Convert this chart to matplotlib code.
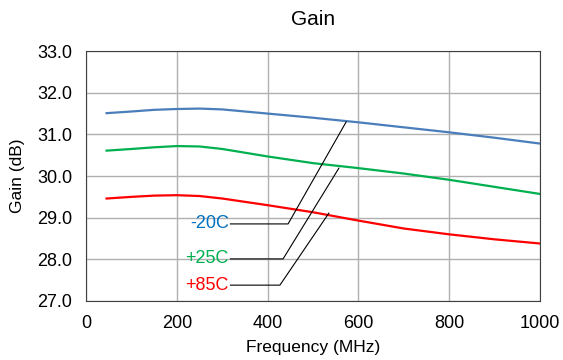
import matplotlib.pyplot as plt
import numpy as np

plt.rcParams['font.family'] = ['Liberation Sans', 'DejaVu Sans']

# data
freq = [45, 100, 150, 200, 250, 300, 400, 500, 600, 700, 800, 900, 1000]
gain_m20 = [31.51, 31.55, 31.59, 31.61, 31.62, 31.60, 31.50, 31.40, 31.29, 31.17, 31.05, 30.92, 30.78]
gain_p25 = [30.61, 30.65, 30.69, 30.72, 30.71, 30.65, 30.47, 30.31, 30.19, 30.06, 29.91, 29.74, 29.57]
gain_p85 = [29.46, 29.50, 29.53, 29.54, 29.52, 29.46, 29.30, 29.13, 28.93, 28.74, 28.60, 28.48, 28.38]

labels = ['-20C', '+25C', '+85C']
label_colors = ['#0070c0', '#00b050', '#ff0000']
line_colors = ['#4a7ebb', '#00b050', '#ff0000']

# leader lines: label anchor, elbow, end on curve
label_y = [28.85, 28.01, 27.38]
elbow_x = [445, 434, 427]
end_pts = [(573, 31.30), (557, 30.19), (535, 29.11)]
text_x = 314

fig = plt.figure(figsize=(5.63, 3.6), dpi=100)
ax = fig.add_axes([0.153, 0.164, 0.806, 0.694])

for g, c in zip([gain_m20, gain_p25, gain_p85], line_colors):
    ax.plot(freq, g, color=c, lw=1.6)

for lab, lc, ly, ex, (px, py) in zip(labels, label_colors, label_y, elbow_x, end_pts):
    ax.plot([text_x + 4, ex, px], [ly, ly, py], color='black', lw=0.8)
    ax.text(text_x, ly, lab, color=lc, fontsize=13, ha='right', va='center')

ax.set_xlim(0, 1000)
ax.set_ylim(27, 33)
ax.set_xticks(np.arange(0, 1001, 200))
ax.set_yticks(np.arange(27, 33.1, 1))
ax.set_yticklabels([f'{v:.1f}' for v in np.arange(27, 33.1, 1)])
ax.grid(True, color='#b0b0b0', lw=1)
ax.set_axisbelow(True)
ax.tick_params(length=0, labelsize=13, pad=10)
for s in ax.spines.values():
    s.set_color('#404040')

ax.set_title('Gain', fontsize=15, pad=19)
ax.set_xlabel('Frequency (MHz)', fontsize=12.5, labelpad=6)
ax.set_ylabel('Gain (dB)', fontsize=12.5, labelpad=9)

fig.savefig('out.png', dpi=100)
